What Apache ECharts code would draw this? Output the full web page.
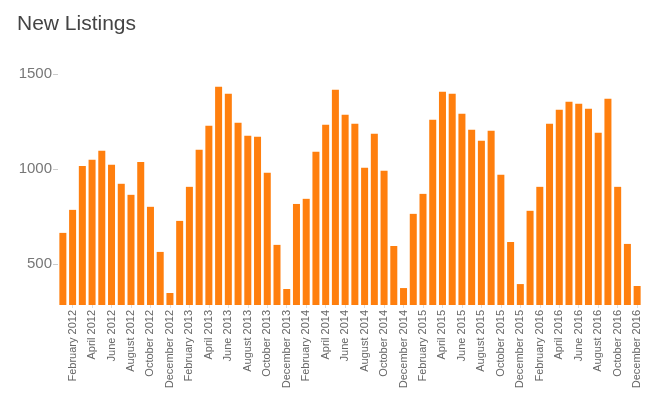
<!DOCTYPE html>
<html>
<head>
<meta charset="utf-8">
<script src="https://cdn.jsdelivr.net/npm/echarts@6/dist/echarts.min.js"></script>
<style>
  html, body { margin: 0; padding: 0; background: #fff; }
  #chart { width: 647px; height: 397px; }
</style>
</head>
<body>
<div id="chart"></div>
<script>
const monthNames = ['January', 'February', 'March', 'April', 'May', 'June',
  'July', 'August', 'September', 'October', 'November', 'December'];
const years = [2012, 2013, 2014, 2015, 2016];

// new listings per month, one array per year
const listings2012 = [665, 786, 1017, 1049, 1096, 1023, 923, 865, 1038, 802, 565, 349];
const listings2013 = [728, 907, 1102, 1228, 1433, 1396, 1244, 1175, 1170, 981, 602, 370];
const listings2014 = [817, 844, 1091, 1233, 1417, 1286, 1238, 1007, 1186, 991, 596, 375];
const listings2015 = [765, 870, 1259, 1407, 1396, 1291, 1207, 1149, 1202, 970, 617, 396];
const listings2016 = [781, 907, 1238, 1312, 1354, 1344, 1317, 1191, 1370, 907, 607, 386];

const yTicks = [500, 1000, 1500];

const categories = [];
years.forEach(y => monthNames.forEach(m => categories.push(m + ' ' + y)));
const values = [].concat(listings2012, listings2013, listings2014, listings2015, listings2016);

const chart = echarts.init(document.getElementById('chart'));

const option = {
  animation: false,
  title: {
    text: 'New Listings',
    left: 12,
    top: 9,
    textStyle: {
      fontFamily: 'Liberation Sans, Arial, sans-serif',
      fontSize: 21,
      fontWeight: 'normal',
      color: '#444'
    }
  },
  grid: {
    left: 58,
    right: 5,
    top: 74,
    bottom: 92
  },
  xAxis: {
    type: 'category',
    data: categories,
    axisLine: { show: false },
    axisTick: {
      show: true,
      alignWithLabel: true,
      length: 3,
      interval: (i) => i % 2 === 1,
      lineStyle: { color: '#ddd' }
    },
    axisLabel: {
      rotate: 90,
      interval: (i) => i % 2 === 1,
      margin: 5,
      fontFamily: 'Liberation Sans, Arial, sans-serif',
      fontSize: 11,
      color: '#666'
    }
  },
  yAxis: {
    type: 'value',
    min: 286,
    max: 1500,
    axisLine: { show: false },
    splitLine: { show: false },
    axisTick: {
      show: true,
      length: 5,
      customValues: yTicks,
      lineStyle: { color: '#ccc' }
    },
    axisLabel: {
      customValues: yTicks,
      formatter: (v) => String(v),
      margin: 6,
      fontFamily: 'Liberation Sans, Arial, sans-serif',
      fontSize: 15,
      color: '#777'
    }
  },
  series: [{
    type: 'bar',
    data: values,
    barCategoryGap: '28%',
    itemStyle: { color: '#ff7f0e' }
  }]
};

chart.setOption(option);
</script>
</body>
</html>
